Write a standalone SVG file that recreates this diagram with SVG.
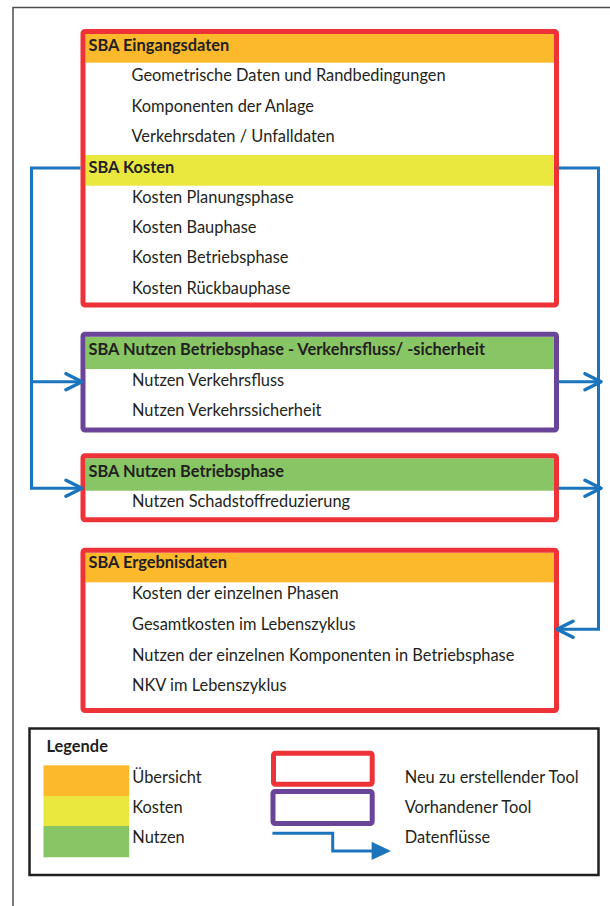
<svg xmlns="http://www.w3.org/2000/svg" width="610" height="906" viewBox="0 0 610 906">
  <defs>
    <style>
      text { font-family: Lato, "Open Sans", "Liberation Sans", sans-serif; font-size: 16.4px; fill: #231f20; }
      .h { font-weight: bold; }
      .frame-new { fill: none; stroke: #ee3338; stroke-width: 5; }
      .frame-old { fill: none; stroke: #6a4499; stroke-width: 5; }
      .ov { fill: #fbb92b; }
      .ko { fill: #eae83e; }
      .nu { fill: #88c564; }
      .flow { fill: none; stroke: #1b75bc; stroke-width: 3; }
    </style>
    <marker id="chev" viewBox="0 0 20 20" refX="18" refY="10" markerWidth="20" markerHeight="20" markerUnits="userSpaceOnUse" orient="auto">
      <path d="M2,2 L18,10 L2,18" fill="none" stroke="#1b75bc" stroke-width="3.5" stroke-linecap="round" stroke-linejoin="round"/>
    </marker>
  </defs>

  <rect width="610" height="906" fill="#ffffff"/>
  <!-- page frame -->
  <path d="M610,7.5 H13 V906" fill="none" stroke="#4d4d4d" stroke-width="1.5"/>

  <!-- SBA Eingangsdaten / Kosten -->
  <g id="box-eingang">
    <rect x="83" y="31.5" width="473.5" height="273.5" fill="#fff"/>
    <rect class="ov" x="85.5" y="34" width="468.5" height="28.7"/>
    <rect class="ko" x="85.5" y="155" width="468.5" height="30.7"/>
    <rect class="frame-new" x="83" y="31.5" width="473.5" height="273.5" rx="2"/>
    <text class="h" x="88.5" y="50.5">SBA Eingangsdaten</text>
    <text x="131.5" y="81">Geometrische Daten und Randbedingungen</text>
    <text x="131.5" y="111.5">Komponenten der Anlage</text>
    <text x="131.5" y="141.5">Verkehrsdaten / Unfalldaten</text>
    <text class="h" x="88.5" y="172.5">SBA Kosten</text>
    <text x="132" y="202.5">Kosten Planungsphase</text>
    <text x="132" y="232.8">Kosten Bauphase</text>
    <text x="132" y="263.2">Kosten Betriebsphase</text>
    <text x="132" y="293.5">Kosten Rückbauphase</text>
  </g>

  <!-- SBA Nutzen Verkehrsfluss / -sicherheit -->
  <g id="box-nutzen-verkehr">
    <rect x="83" y="334.2" width="473.5" height="95.8" fill="#fff"/>
    <rect class="nu" x="85.5" y="336.7" width="468.5" height="32.3"/>
    <rect class="frame-old" x="83" y="334.2" width="473.5" height="95.8" rx="2"/>
    <text class="h" x="88.5" y="355">SBA Nutzen Betriebsphase - Verkehrsfluss/ -sicherheit</text>
    <text x="132" y="386">Nutzen Verkehrsfluss</text>
    <text x="132" y="416">Nutzen Verkehrssicherheit</text>
  </g>

  <!-- SBA Nutzen Betriebsphase -->
  <g id="box-nutzen-betrieb">
    <rect x="83" y="455.8" width="473.5" height="64" fill="#fff"/>
    <rect class="nu" x="85.5" y="458.3" width="468.5" height="32.4"/>
    <rect class="frame-new" x="83" y="455.8" width="473.5" height="64" rx="2"/>
    <text class="h" x="88.5" y="476.7">SBA Nutzen Betriebsphase</text>
    <text x="132" y="507.3">Nutzen Schadstoffreduzierung</text>
  </g>

  <!-- SBA Ergebnisdaten -->
  <g id="box-ergebnis">
    <rect x="83" y="550.3" width="473.5" height="160.2" fill="#fff"/>
    <rect class="ov" x="85.5" y="552.8" width="468.5" height="29.5"/>
    <rect class="frame-new" x="83" y="550.3" width="473.5" height="160.2" rx="2"/>
    <text class="h" x="88.5" y="568.3">SBA Ergebnisdaten</text>
    <text x="132" y="599.3">Kosten der einzelnen Phasen</text>
    <text x="132" y="630">Gesamtkosten im Lebenszyklus</text>
    <text x="132" y="660.7">Nutzen der einzelnen Komponenten in Betriebsphase</text>
    <text x="132" y="690.7">NKV im Lebenszyklus</text>
  </g>

  <!-- data flows -->
  <g id="connectors">
    <path class="flow" d="M80.5,168 H31.5 V488.3 H82" marker-end="url(#chev)"/>
    <path class="flow" d="M31.5,381.7 H82" marker-end="url(#chev)"/>
    <path class="flow" d="M558.5,168 H598.5 V629.3 H557" marker-end="url(#chev)"/>
    <path class="flow" d="M558.5,381.7 H601" marker-end="url(#chev)"/>
    <path class="flow" d="M558.5,488.3 H601" marker-end="url(#chev)"/>
  </g>

  <!-- legend -->
  <g id="legend">
    <rect x="29.5" y="728.5" width="569" height="146.5" fill="#fff" stroke="#231f20" stroke-width="2.5"/>
    <text class="h" x="46.5" y="751.7">Legende</text>
    <rect class="ov" x="43.5" y="765.3" width="85.7" height="30.7"/>
    <rect class="ko" x="43.5" y="796" width="85.7" height="30"/>
    <rect class="nu" x="43.5" y="826" width="85.7" height="31.3"/>
    <text x="132.3" y="782.7">Übersicht</text>
    <text x="132.3" y="812.7">Kosten</text>
    <text x="132.3" y="842.7">Nutzen</text>
    <rect class="frame-new" x="273.5" y="753.2" width="98.7" height="31" rx="2"/>
    <rect class="frame-old" x="273" y="791.5" width="99.2" height="32" rx="2"/>
    <path class="flow" d="M272.4,833.3 H332.7 V851 H373"/>
    <path d="M371.6,841.7 L391,851 L371.6,860 Z" fill="#1b75bc"/>
    <text x="404.7" y="782.7">Neu zu erstellender Tool</text>
    <text x="404.7" y="812.7">Vorhandener Tool</text>
    <text x="404.7" y="842.7">Datenflüsse</text>
  </g>
</svg>
